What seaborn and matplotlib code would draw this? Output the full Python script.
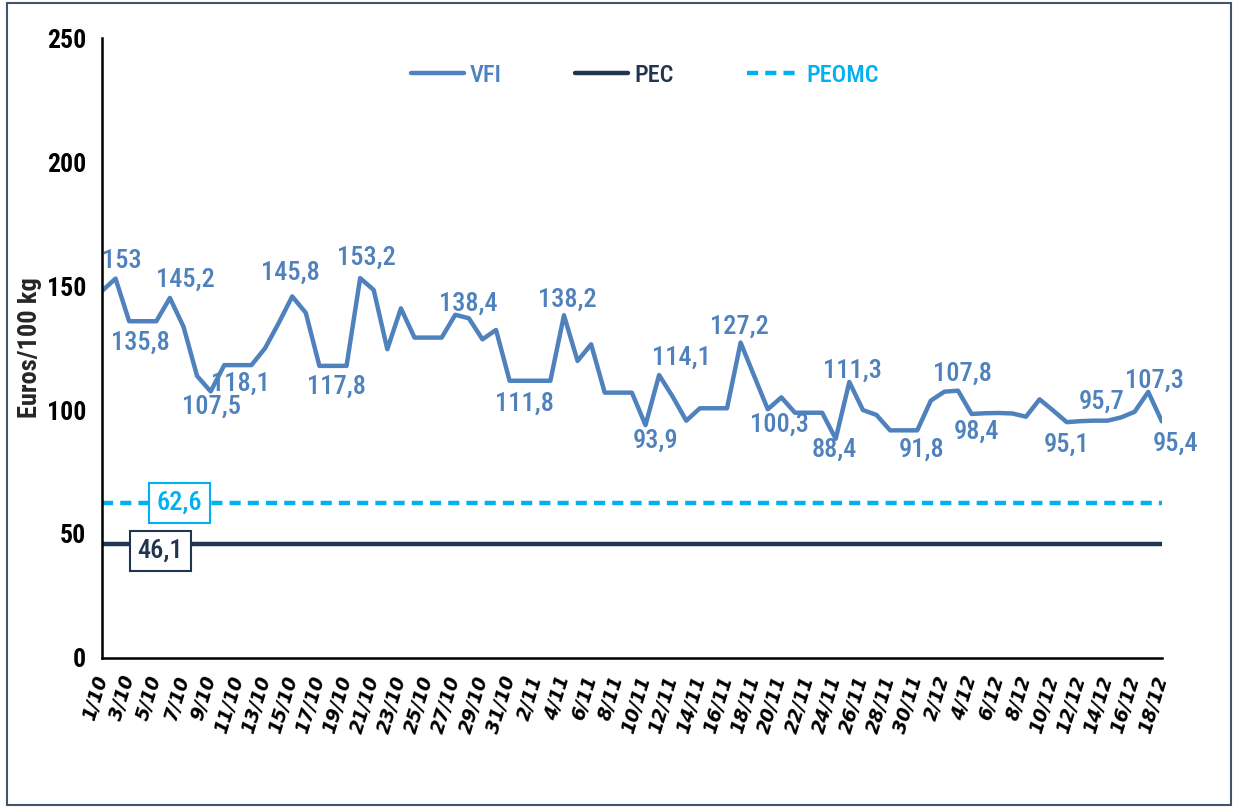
import pandas as pd
import numpy as np
import matplotlib
matplotlib.use('Agg')
import matplotlib.pyplot as plt
import seaborn as sns
from matplotlib.patches import Rectangle

# daily dates 1/10 -> 18/12
dates = pd.date_range('2023-10-01', '2023-12-18', freq='D')

vfi = [148.0, 153.0, 135.8, 135.8, 135.8, 145.2, 133.6, 113.7, 107.5, 118.1,
       118.1, 118.1, 124.9, 135.0, 145.8, 139.2, 117.8, 117.8, 117.8, 153.2,
       148.4, 124.5, 141.0, 129.2, 129.2, 129.2, 138.4, 137.0, 128.5, 132.3,
       111.8, 111.8, 111.8, 111.8, 138.2, 119.8, 126.5, 107.0, 107.0, 107.0,
       93.9, 114.1, 105.4, 95.7, 100.7, 100.7, 100.7, 127.2, 113.7, 100.3,
       105.1, 98.9, 98.9, 98.9, 88.4, 111.3, 100.0, 98.0, 91.8, 91.8,
       91.8, 103.8, 107.4, 107.8, 98.4, 98.7, 98.8, 98.6, 97.3, 104.3,
       99.8, 95.1, 95.5, 95.7, 95.7, 97.0, 99.3, 107.3, 95.4]
pec = 46.1
peomc = 62.6

# labelled points: (index, text, dx px, dy px)
vfi_labels = [(1, '153', 6, -18), (2, '135,8', 11, 22), (5, '145,2', 15, -18),
              (8, '107,5', 1, 15), (10, '118,1', 3, 19), (14, '145,8', -2, -24),
              (17, '117,8', 3, 21), (19, '153,2', 6, -20), (26, '138,4', 13, -11),
              (31, '111,8', 1, 23), (34, '138,2', 3, -16), (40, '93,9', 10, 16),
              (41, '114,1', 22, -17), (47, '127,2', -1, -16), (49, '100,3', 12, 15),
              (54, '88,4', -1, 11), (55, '111,3', 3, -11), (59, '91,8', 18, 19),
              (63, '107,8', 4, -17), (64, '98,4', 5, 18), (71, '95,1', 0, 23),
              (73, '95,7', 8, -19), (77, '107,3', 6, -11), (78, '95,4', 14, 22)]

c_vfi = '#4F81BD'
c_pec = '#1F3550'
c_peomc = '#00B0F0'
narrow = ['Roboto Condensed', 'Open Sans Condensed', 'Liberation Sans Narrow',
          'Liberation Sans', 'DejaVu Sans']

sns.set_theme(style='white')
plt.rcParams['font.family'] = narrow

fig = plt.figure(figsize=(12.36, 8.10), dpi=100)
ax = fig.add_axes([0.0825, 0.1877, 0.8575, 0.7653])

df = pd.DataFrame({'date': dates, 'VFI': vfi})
sns.lineplot(data=df, x='date', y='VFI', ax=ax, color=c_vfi, lw=3.2, label='VFI')
ax.axhline(pec, color=c_pec, lw=3.2, label='PEC')
ax.axhline(peomc, color=c_peomc, lw=3.2, ls=(0, (2.5, 1.6)), label='PEOMC')

for i, txt, dx, dy in vfi_labels:
    ax.annotate(txt, (dates[i], vfi[i]), xytext=(dx, -dy), textcoords='offset pixels',
                ha='center', va='center', color=c_vfi, fontsize=19, fontweight='medium')

ax.text(dates[5] + pd.Timedelta(hours=17), peomc, '62,6', ha='center', va='center',
        color=c_peomc, fontsize=19, fontweight='medium',
        bbox=dict(boxstyle='square,pad=0.3', fc='white', ec=c_peomc, lw=1.5))
ax.text(dates[4] + pd.Timedelta(hours=7), pec - 3, '46,1', ha='center', va='center',
        color=c_pec, fontsize=19, fontweight='medium',
        bbox=dict(boxstyle='square,pad=0.3', fc='white', ec=c_pec, lw=1.5))

ax.set_xlim(dates[0], dates[-1])
ax.set_ylim(0, 250)
ax.set_yticks(range(0, 251, 50))
ax.set_yticklabels([str(v) for v in range(0, 251, 50)], fontsize=18.5, fontweight='bold')
ticks = dates[::2]
ax.set_xticks(ticks)
ax.set_xticklabels([f'{d.day}/{d.month}' for d in ticks], rotation=73, ha='right',
                   va='center', rotation_mode='anchor', fontsize=13.5, fontweight='bold',
                   fontstyle='italic', family='DejaVu Sans')
ax.set_xlabel('')
ax.set_ylabel('Euros/100 kg', fontsize=19, fontweight='bold')
ax.yaxis.set_label_coords(-0.057, 0.5)

ax.tick_params(axis='both', direction='out', length=8, width=1.5, color='black', labelcolor='black')
ax.tick_params(axis='x', pad=5)
for s in ['top', 'right']:
    ax.spines[s].set_visible(False)
for s in ['left', 'bottom']:
    ax.spines[s].set_color('black')
    ax.spines[s].set_linewidth(1.8)

leg = ax.legend(loc='center', bbox_to_anchor=(0.512, 0.94), ncol=3, frameon=False,
                prop={'size': 17.5, 'weight': 'medium'}, handlelength=2.2,
                handletextpad=0.25, columnspacing=3.0, labelcolor='linecolor')

fig.patches.append(Rectangle((0.006, 0.006), 0.99, 0.99, transform=fig.transFigure,
                             fill=False, ec='#44546A', lw=1.5))

fig.savefig('out.png', dpi=100, facecolor='white')
